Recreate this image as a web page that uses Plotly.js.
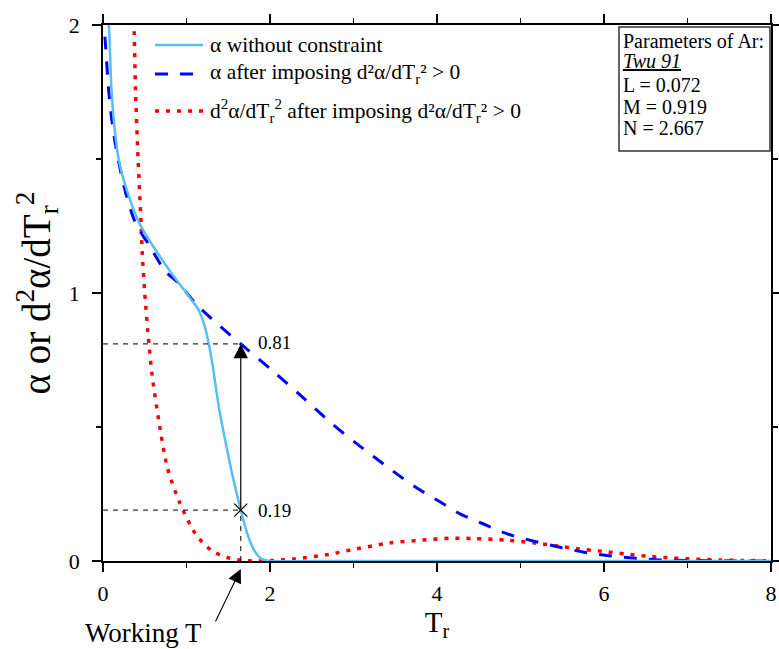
<!DOCTYPE html>
<html><head><meta charset="utf-8">
<script src="https://cdn.plot.ly/plotly-3.0.1.min.js"></script>
<style>html,body{margin:0;padding:0;background:#fff}#chart{width:779px;height:649px}</style>
</head><body><div id="chart"></div>
<script>
// ---- data ----
const trSolid = [0.04, 0.07, 0.10, 0.14, 0.20, 0.30, 0.43, 0.59, 0.75, 0.90, 1.00, 1.07, 1.13, 1.18, 1.23, 1.27, 1.31, 1.39, 1.47, 1.55, 1.65, 1.73, 1.81, 1.90, 2.0, 2.5, 3, 4, 5, 6, 7, 8];
const alphaSolid = [2.08, 2.0, 1.77, 1.61, 1.48, 1.37, 1.264, 1.18, 1.105, 1.04, 1.0, 0.97, 0.945, 0.912, 0.862, 0.805, 0.735, 0.57, 0.44, 0.32, 0.19, 0.10, 0.04, 0.008, 0, 0, 0, 0, 0, 0, 0, 0];

const trDashed = [0.0, 0.03, 0.07, 0.13, 0.25, 0.39, 0.55, 0.75, 0.91, 1.11, 1.35, 1.65, 2.03, 2.43, 2.75, 3.03, 3.47, 3.75, 4.03, 4.27, 4.55, 4.85, 5.16, 5.46, 5.76, 6.06, 6.38, 6.68, 7.0, 7.5, 8.0];
const alphaDashed = [2.05, 1.925, 1.75, 1.59, 1.40, 1.26, 1.18, 1.08, 1.035, 0.96, 0.89, 0.81, 0.71, 0.60, 0.51, 0.44, 0.336, 0.274, 0.222, 0.177, 0.139, 0.10, 0.074, 0.052, 0.033, 0.02, 0.01, 0.004, 0.002, 0.0005, 0];

const trDeriv = [0.365, 0.372, 0.39, 0.42, 0.45, 0.47, 0.50, 0.55, 0.59, 0.67, 0.77, 0.91, 1.11, 1.31, 1.51, 1.67, 1.85, 2.03, 2.3, 2.71, 3.03, 3.43, 3.87, 4.15, 4.43, 4.83, 5.15, 5.42, 5.70, 5.98, 6.26, 6.54, 6.82, 7.10, 7.39, 7.67, 7.95];
const deriv2 = [2.1, 2.0, 1.75, 1.50, 1.30, 1.15, 1.0, 0.81, 0.69, 0.52, 0.35, 0.224, 0.10, 0.037, 0.011, 0.002, 0.0, 0.002, 0.008, 0.025, 0.045, 0.067, 0.079, 0.085, 0.084, 0.078, 0.068, 0.057, 0.045, 0.036, 0.026, 0.017, 0.011, 0.007, 0.004, 0.002, 0.001];

const workingT = [1.65];
const alphaBefore = [0.19];
const alphaAfter = [0.81];

const seriesNames = ['α without constraint', 'α after imposing d²α/dT<sub>r</sub>² > 0', 'd<sup>2</sup>α/dT<sub>r</sub><sup>2</sup> after imposing d²α/dT<sub>r</sub>² > 0'];
const paramLines = ['Parameters of Ar:', '<i><u>Twu 91</u></i>', 'L = 0.072', 'M = 0.919', 'N = 2.667'];
const xTickVals = [0, 2, 4, 6, 8];
const yTickVals = [0, 1, 2];

// ---- drawing ----
const FONT = "'Liberation Serif', 'Times New Roman', serif";
const C_SOLID = '#57BEF5', C_DASH = '#0000FF', C_DOT = '#FF0000';
const DASH_B = '13px,12px', DOT_R = '4px,7px';

// pixel -> paper helpers (plot area l=103, t=25, w=668, h=536)
const L = 103, T = 25, W = 668, H = 536;
const px = v => (v - L) / W;
const py = v => (T + H - v) / H;

const traces = [
  {x: trDeriv, y: deriv2, mode: 'lines', line: {color: C_DOT, width: 3.5, dash: DOT_R, shape: 'spline', smoothing: 0.8}, showlegend: false, hoverinfo: 'skip'},
  {x: trDashed, y: alphaDashed, mode: 'lines', line: {color: C_DASH, width: 3, dash: DASH_B, shape: 'spline', smoothing: 0.8}, showlegend: false, hoverinfo: 'skip'},
  {x: trSolid, y: alphaSolid, mode: 'lines', line: {color: C_SOLID, width: 2.5, shape: 'spline', smoothing: 0.8}, showlegend: false, hoverinfo: 'skip'},
  {x: workingT, y: alphaBefore, mode: 'markers', marker: {symbol: 'x-thin', size: 13, line: {color: '#000', width: 1.2}}, showlegend: false, hoverinfo: 'skip', cliponaxis: false}
];

const shapes = [
  {type: 'line', xref: 'x', yref: 'y', x0: 0, x1: workingT[0], y0: alphaAfter[0], y1: alphaAfter[0], line: {color: '#000', width: 1, dash: '5px,5px'}},
  {type: 'line', xref: 'x', yref: 'y', x0: 0, x1: workingT[0], y0: alphaBefore[0], y1: alphaBefore[0], line: {color: '#000', width: 1, dash: '5px,5px'}},
  {type: 'line', xref: 'x', yref: 'y', x0: workingT[0], x1: workingT[0], y0: 0, y1: alphaBefore[0], line: {color: '#000', width: 1, dash: '5px,5px'}},
  {type: 'line', xref: 'paper', yref: 'paper', x0: px(155), x1: px(203), y0: py(45), y1: py(45), line: {color: C_SOLID, width: 2.5}},
  {type: 'line', xref: 'paper', yref: 'paper', x0: px(155), x1: px(203), y0: py(74), y1: py(74), line: {color: C_DASH, width: 3, dash: DASH_B}},
  {type: 'line', xref: 'paper', yref: 'paper', x0: px(155), x1: px(203), y0: py(111), y1: py(111), line: {color: C_DOT, width: 3.5, dash: DOT_R}},
  {type: 'rect', xref: 'paper', yref: 'paper', x0: px(619), x1: px(770), y0: py(151), y1: py(27), line: {color: '#333', width: 1.5}, fillcolor: 'rgba(255,255,255,0)'}
];

const legendY = [45, 74, 111];
const paramY = [41, 61, 85, 107, 128];
const annotations = [];
seriesNames.forEach((s, i) => annotations.push({xref: 'paper', yref: 'paper', x: px(208), y: py(legendY[i]), xanchor: 'left', yanchor: 'middle', text: s, showarrow: false, font: {family: FONT, size: 21.5, color: '#000'}}));
paramLines.forEach((s, i) => annotations.push({xref: 'paper', yref: 'paper', x: px(621), y: py(paramY[i]), xanchor: 'left', yanchor: 'middle', text: s, showarrow: false, font: {family: FONT, size: 20, color: '#000'}}));
annotations.push({xref: 'x', yref: 'y', axref: 'x', ayref: 'y', x: workingT[0], y: alphaAfter[0], ax: workingT[0], ay: alphaBefore[0], text: '', showarrow: true, arrowhead: 2, arrowsize: 2.4, arrowwidth: 1.2, arrowcolor: '#000'});
annotations.push({xref: 'x', yref: 'y', x: workingT[0] + 0.18, y: alphaAfter[0] + 0.005, xanchor: 'left', yanchor: 'middle', text: alphaAfter[0].toFixed(2), showarrow: false, font: {family: FONT, size: 19, color: '#000'}});
annotations.push({xref: 'x', yref: 'y', x: workingT[0] + 0.18, y: alphaBefore[0], xanchor: 'left', yanchor: 'middle', text: alphaBefore[0].toFixed(2), showarrow: false, font: {family: FONT, size: 19, color: '#000'}});
annotations.push({xref: 'x', yref: 'paper', x: workingT[0], y: py(569), ax: -26, ay: 54, text: '', showarrow: true, arrowhead: 2, arrowsize: 2.5, arrowwidth: 1.1, arrowcolor: '#000'});
annotations.push({xref: 'paper', yref: 'paper', x: px(143), y: py(633), xanchor: 'center', yanchor: 'middle', text: 'Working T', showarrow: false, font: {family: FONT, size: 27, color: '#000'}});

const axisCommon = {
  showgrid: false, zeroline: false, showline: true, linecolor: '#000', linewidth: 1.8,
  mirror: 'allticks', ticks: 'outside', ticklen: 9, tickwidth: 1.5, tickcolor: '#000',
  tickfont: {family: FONT, size: 22, color: '#000'}
};

const layout = {
  width: 779, height: 649,
  margin: {l: L, r: 779 - L - W, t: T, b: 649 - T - H, pad: 0},
  paper_bgcolor: '#fff', plot_bgcolor: '#fff',
  showlegend: false,
  xaxis: Object.assign({}, axisCommon, {
    range: [0, 8], tickvals: xTickVals, ticklabelstandoff: 3,
    minor: {dtick: 1, ticks: 'outside', ticklen: 5, tickwidth: 1.5, tickcolor: '#000', showgrid: false},
    title: {text: 'T<sub>r</sub>', font: {family: FONT, size: 29, color: '#000'}, standoff: 5}
  }),
  yaxis: Object.assign({}, axisCommon, {
    range: [0, 2], tickvals: yTickVals, ticklabelstandoff: 8,
    minor: {dtick: 0.5, ticks: 'outside', ticklen: 5, tickwidth: 1.5, tickcolor: '#000', showgrid: false},
    title: {text: 'α or d<sup>2</sup>α/dT<sub>r</sub><sup>2</sup>', font: {family: FONT, size: 39, color: '#000'}, standoff: 6}
  }),
  shapes: shapes,
  annotations: annotations
};

Plotly.newPlot('chart', traces, layout, {staticPlot: true, displayModeBar: false});
</script>
</body></html>
